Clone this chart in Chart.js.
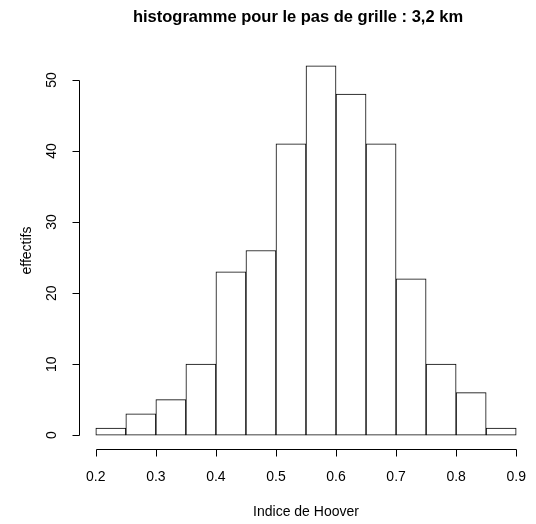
<!DOCTYPE html>
<html>
<head>
<meta charset="utf-8">
<script src="https://cdn.jsdelivr.net/npm/chart.js@4"></script>
<style>
html,body{margin:0;padding:0;background:#fff;}
#wrap{width:536px;height:524px;}
</style>
</head>
<body>
<div id="wrap"><canvas id="c" width="536" height="524"></canvas></div>
<script>
const binStarts = [0.20,0.25,0.30,0.35,0.40,0.45,0.50,0.55,0.60,0.65,0.70,0.75,0.80,0.85];
const binWidth = 0.05;
const counts = [1,3,5,10,23,26,41,52,48,41,22,10,6,1];
const xTicks = [0.2,0.3,0.4,0.5,0.6,0.7,0.8,0.9];
const xTickLabels = ["0.2","0.3","0.4","0.5","0.6","0.7","0.8","0.9"];
const yTicks = [0,10,20,30,40,50];
const yTickLabels = ["0","10","20","30","40","50"];
const titleText = "histogramme pour le pas de grille : 3,2 km";
const xTitle = "Indice de Hoover";
const yTitle = "effectifs";

const FONT = "'Liberation Sans', Arial, Helvetica, sans-serif";
const xMin = 0.2, xMax = 0.9, yMax = 52;
const xPad = (xMax - xMin) * 0.04, yPad = yMax * 0.04;

const points = binStarts.map((s, i) => ({x: s + binWidth / 2, y: counts[i]}));

const rAxes = {
  id: 'rAxes',
  afterDraw(chart) {
    const ctx = chart.ctx, xs = chart.scales.x, ys = chart.scales.y, ca = chart.chartArea;
    ctx.save();
    ctx.strokeStyle = '#000';
    ctx.lineWidth = 1;
    ctx.fillStyle = '#000';
    // x axis
    const yAx = Math.round(ys.getPixelForValue(-yPad)) - 0.5;
    const x0 = Math.round(xs.getPixelForValue(xTicks[0])) + 0.5;
    const x1 = Math.round(xs.getPixelForValue(xTicks[xTicks.length - 1])) + 0.5;
    ctx.beginPath();
    ctx.moveTo(x0, yAx); ctx.lineTo(x1, yAx);
    xTicks.forEach(v => {
      const px = Math.round(xs.getPixelForValue(v)) + 0.5;
      ctx.moveTo(px, yAx); ctx.lineTo(px, yAx + 7);
    });
    ctx.stroke();
    ctx.font = '14px ' + FONT;
    ctx.textAlign = 'center';
    ctx.textBaseline = 'middle';
    xTicks.forEach((v, i) => {
      ctx.fillText(xTickLabels[i], xs.getPixelForValue(v), yAx + 28);
    });
    ctx.fillText(xTitle, (ca.left + ca.right) / 2, yAx + 63);
    // y axis
    const xAx = Math.round(xs.getPixelForValue(xMin - xPad)) + 0.5;
    const y0 = Math.round(ys.getPixelForValue(yTicks[0])) + 0.5;
    const y1 = Math.round(ys.getPixelForValue(yTicks[yTicks.length - 1])) + 0.5;
    ctx.beginPath();
    ctx.moveTo(xAx, y0); ctx.lineTo(xAx, y1);
    yTicks.forEach(v => {
      const py = Math.round(ys.getPixelForValue(v)) + 0.5;
      ctx.moveTo(xAx, py); ctx.lineTo(xAx - 7, py);
    });
    ctx.stroke();
    yTicks.forEach((v, i) => {
      ctx.save();
      ctx.translate(xAx - 27, ys.getPixelForValue(v));
      ctx.rotate(-Math.PI / 2);
      ctx.fillText(yTickLabels[i], 0, 0);
      ctx.restore();
    });
    ctx.save();
    ctx.translate(xAx - 52, (ca.top + ca.bottom) / 2);
    ctx.rotate(-Math.PI / 2);
    ctx.fillText(yTitle, 0, 0);
    ctx.restore();
    // title
    ctx.font = 'bold 16.5px ' + FONT;
    ctx.fillText(titleText, (ca.left + ca.right) / 2 - 8, 17);
    ctx.restore();
  }
};

new Chart(document.getElementById('c'), {
  type: 'bar',
  data: {
    datasets: [{
      data: points,
      backgroundColor: '#ffffff',
      borderColor: '#000000',
      borderWidth: 1,
      borderSkipped: false,
      barPercentage: 1,
      categoryPercentage: 1
    }]
  },
  options: {
    responsive: false,
    animation: false,
    layout: {padding: {left: 79, right: 3, top: 51, bottom: 74}},
    plugins: {legend: {display: false}, tooltip: {enabled: false}, title: {display: false}},
    scales: {
      x: {type: 'linear', display: false, min: xMin - xPad, max: xMax + xPad, offset: false},
      y: {type: 'linear', display: false, min: -yPad, max: yMax + yPad}
    }
  },
  plugins: [rAxes]
});
</script>
</body>
</html>
